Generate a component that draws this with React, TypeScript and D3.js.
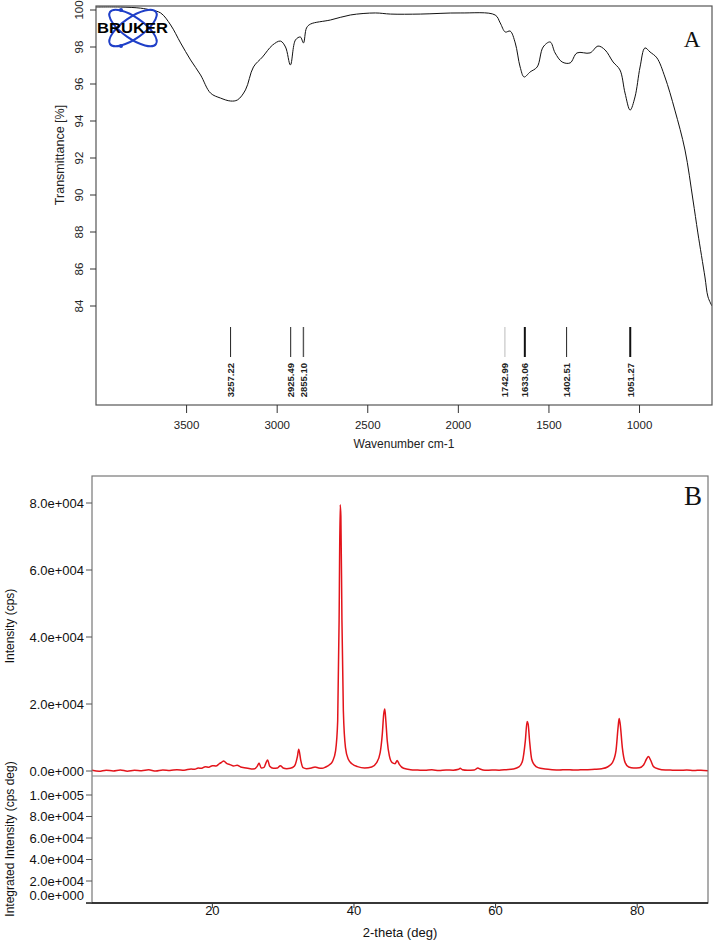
import React from "react";
import * as d3 from "d3";

// ---------- Panel A: FTIR ----------
const irWavenumber = [4000, 3864, 3754, 3698, 3643, 3588, 3533, 3478, 3423, 3368, 3313, 3257, 3219, 3175, 3131, 3081, 3026, 2982, 2954, 2927, 2899, 2872, 2855, 2838, 2816, 2706, 2596, 2458, 2375, 2210, 1990, 1797, 1769, 1741, 1714, 1686, 1659, 1637, 1604, 1565, 1532, 1493, 1466, 1427, 1383, 1345, 1273, 1229, 1190, 1146, 1108, 1080, 1052, 1025, 997, 970, 942, 904, 860, 805, 749, 705, 678, 639, 622, 600];
const irTransmittance = [100.16, 100.16, 100.1, 100.0, 99.84, 99.19, 98.22, 97.3, 96.49, 95.51, 95.24, 95.08, 95.14, 95.68, 96.92, 97.46, 98.1, 98.32, 98.0, 97.03, 98.38, 98.54, 98.22, 99.03, 99.24, 99.46, 99.73, 99.84, 99.78, 99.78, 99.84, 99.73, 99.3, 98.81, 98.86, 98.22, 96.92, 96.38, 96.65, 96.92, 98.0, 98.27, 97.68, 97.19, 97.14, 97.68, 97.68, 98.05, 97.84, 97.19, 96.76, 95.51, 94.59, 95.3, 96.92, 97.95, 97.73, 97.41, 96.38, 94.59, 92.43, 89.73, 87.95, 85.57, 84.49, 84.0];
const irYTicks = [84, 86, 88, 90, 92, 94, 96, 98, 100];
const irXTicks = [3500, 3000, 2500, 2000, 1500, 1000];
const irPeakLabels = ["3257.22", "2925.49", "2855.10", "1742.99", "1633.06", "1402.51", "1051.27"];
const irPeakWidths = [1, 1, 1.4, 0.8, 2, 1, 2];
const irPeakColors = ["#222", "#222", "#555", "#aaa", "#111", "#222", "#111"];

// ---------- Panel B: XRD ----------
const xrdTheta = [3, 4, 5, 6, 7, 8, 9, 10, 11, 12, 13, 14, 15, 16, 17, 17.5, 18, 18.5, 19, 19.5, 20, 20.5, 21, 21.3, 21.6, 22, 22.5, 23, 23.5, 24, 24.5, 25, 25.5, 26, 26.3, 26.6, 26.9, 27.3, 27.6, 27.8, 28.1, 28.6, 29.2, 29.6, 30, 30.5, 31, 31.6, 32, 32.2, 32.5, 32.8, 33.3, 34, 34.5, 35, 35.5, 36, 36.5, 37, 37.4, 37.7, 37.9, 38.05, 38.15, 38.3, 38.5, 38.8, 39.2, 39.8, 40.5, 41.5, 42.5, 43.2, 43.7, 44, 44.2, 44.35, 44.5, 44.7, 45, 45.4, 45.8, 46.1, 46.4, 47, 48, 49, 50, 51, 52, 53, 54, 54.8, 55, 55.3, 56, 57, 57.5, 57.8, 58.5, 59.5, 60.5, 61.5, 62.5, 63.3, 63.8, 64.2, 64.45, 64.6, 64.8, 65.1, 65.5, 66, 67, 68, 69, 70, 71, 72, 73, 74, 75, 75.8, 76.5, 77, 77.3, 77.45, 77.6, 77.9, 78.3, 78.8, 79.5, 80.3, 80.9, 81.3, 81.6, 81.9, 82.3, 83, 84, 85, 86, 87, 88, 89, 90];
const xrdCounts = [200, -100, 250, 0, 300, -50, 200, 100, 350, 0, 300, 150, 400, 250, 600, 500, 900, 800, 1300, 1100, 1600, 1500, 2200, 2600, 3000, 2300, 1900, 1500, 1700, 1200, 1000, 800, 600, 700, 1300, 2300, 900, 1100, 2600, 3300, 1400, 800, 900, 1600, 900, 700, 800, 1500, 4200, 6500, 3000, 1000, 700, 900, 1200, 900, 800, 1200, 1800, 3000, 6000, 15000, 45000, 79500, 76000, 45000, 18000, 7000, 3500, 2000, 1300, 900, 1200, 2500, 5500, 11000, 17000, 18500, 15000, 9000, 4500, 2500, 2200, 3100, 2000, 800, 400, 300, 200, 350, 150, 300, 250, 500, 800, 400, 250, 300, 900, 600, 200, 300, 250, 400, 600, 1200, 3000, 9000, 14800, 14000, 9000, 3500, 1800, 1000, 600, 400, 300, 400, 300, 350, 400, 500, 700, 1200, 2500, 6000, 13000, 15700, 14000, 7000, 2500, 1200, 900, 1000, 1800, 3500, 4300, 3200, 1300, 600, 300, 250, 200, 300, 150, 250, 100];
const xrdYTicks = [0, 20000, 40000, 60000, 80000];
const xrdIntYTicks = [0, 20000, 40000, 60000, 80000, 100000];
const xrdXTicks = [20, 40, 60, 80];

const fmtSci = (v: number) => {
  if (v === 0) return "0.0e+000";
  const e = Math.floor(Math.log10(v));
  const m = v / Math.pow(10, e);
  return `${m.toFixed(1)}e+${String(e).padStart(3, "0")}`;
};

const SANS = "'Liberation Sans', Arial, sans-serif";
const SERIF = "'Liberation Serif', 'Times New Roman', serif";

export default function App() {
  // Panel A geometry
  const aL = 96, aR = 712, aT = 6, aB = 405;
  const xA = d3.scaleLinear().domain([4000, 600]).range([aL, aR]);
  const yA = d3.scaleLinear().domain([84, 100]).range([306, 10]);
  const irLine = d3
    .line<number>()
    .x((_, i) => xA(irWavenumber[i]))
    .y((d) => yA(d))
    .curve(d3.curveCatmullRom.alpha(0.5));

  // Panel B geometry
  const bL = 92, bR = 708, bT = 476, bMid = 776, bB = 903;
  const xB = d3.scaleLinear().domain([3, 90]).range([bL, bR]);
  const yB = d3.scaleLinear().domain([0, 80000]).range([771, 503]);
  const yI = d3.scaleLinear().domain([0, 100000]).range([902.5, 795]);
  const xrdLine = d3
    .line<number>()
    .x((_, i) => xB(xrdTheta[i]))
    .y((d) => yB(d))
    .curve(d3.curveMonotoneX);

  return (
    <svg
      width={714}
      height={948}
      style={{ position: "absolute", left: 0, top: 0, display: "block", background: "#fff" }}
    >
      <defs>
        <clipPath id="clipA">
          <rect x={aL} y={aT} width={aR - aL} height={aB - aT} />
        </clipPath>
        <clipPath id="clipB">
          <rect x={bL} y={bT} width={bR - bL} height={bMid - bT} />
        </clipPath>
      </defs>

      {/* ---------- Panel A ---------- */}
      <path d={irLine(irTransmittance) || ""} fill="none" stroke="#111" strokeWidth={1} clipPath="url(#clipA)" />
      <rect x={aL} y={aT} width={aR - aL} height={aB - aT} fill="none" stroke="#555" strokeWidth={1.2} />

      {/* Bruker logo */}
      <g>
        <ellipse cx={133} cy={28} rx={28} ry={10.5} fill="none" stroke="#1f3fc8" strokeWidth={2} transform="rotate(35 133 28)" />
        <ellipse cx={133} cy={28} rx={28} ry={10.5} fill="none" stroke="#1f3fc8" strokeWidth={2} transform="rotate(-35 133 28)" />
        <circle cx={121} cy={46} r={2} fill="#1f3fc8" />
        <circle cx={121} cy={10} r={2} fill="#1f3fc8" />
        <text x={97} y={33} fontFamily={SANS} fontWeight={900} fontSize={15.5} textLength={71} lengthAdjust="spacingAndGlyphs" fill="#000">
          BRUKER
        </text>
      </g>

      {/* Y axis A */}
      {irYTicks.map((t) => (
        <g key={"ya" + t}>
          <line x1={aL - 6} x2={aL} y1={yA(t)} y2={yA(t)} stroke="#333" strokeWidth={1} />
          <text
            transform={`translate(83,${yA(t)}) rotate(-90)`}
            textAnchor="middle"
            fontFamily={SANS}
            fontSize={11.5}
            fill="#222"
          >
            {t}
          </text>
        </g>
      ))}
      <text transform={`translate(64,155) rotate(-90)`} textAnchor="middle" fontFamily={SANS} fontSize={12.5} fill="#222">
        Transmittance [%]
      </text>

      {/* X axis A */}
      {irXTicks.map((t) => (
        <g key={"xa" + t}>
          <line x1={xA(t)} x2={xA(t)} y1={aB} y2={aB + 8} stroke="#333" strokeWidth={1} />
          <text x={xA(t)} y={429} textAnchor="middle" fontFamily={SANS} fontSize={11.5} fill="#222">
            {t}
          </text>
        </g>
      ))}
      <text x={404} y={448} textAnchor="middle" fontFamily={SANS} fontSize={12} fill="#222">
        Wavenumber cm-1
      </text>

      {/* Peak markers */}
      {irPeakLabels.map((lab, i) => {
        const x = xA(parseFloat(lab));
        return (
          <g key={"pk" + lab}>
            <line x1={x} x2={x} y1={327} y2={357} stroke={irPeakColors[i]} strokeWidth={irPeakWidths[i]} />
            <text
              transform={`translate(${x + 3.5},363) rotate(-90)`}
              textAnchor="end"
              fontFamily={SANS}
              fontWeight={700}
              fontSize={9.5}
              fill="#222"
            >
              {lab}
            </text>
          </g>
        );
      })}

      <text x={692} y={47} textAnchor="middle" fontFamily={SERIF} fontSize={23} fill="#111">
        A
      </text>

      {/* ---------- Panel B ---------- */}
      <path d={xrdLine(xrdCounts) || ""} fill="none" stroke="#e3141b" strokeWidth={1.5} clipPath="url(#clipB)" />
      <rect x={bL} y={bT} width={bR - bL} height={bB - bT} fill="none" stroke="#777" strokeWidth={1.2} />
      <line x1={bL} x2={bR} y1={bMid} y2={bMid} stroke="#888" strokeWidth={1.2} />
      <line x1={bL - 6} x2={bR} y1={bB} y2={bB} stroke="#111" strokeWidth={1.5} />

      {xrdYTicks.map((t) => (
        <g key={"yb" + t}>
          <line x1={bL - 6} x2={bL} y1={yB(t)} y2={yB(t)} stroke="#555" strokeWidth={1} />
          <text x={84} y={yB(t) + 4.5} textAnchor="end" fontFamily={SANS} fontSize={13} fill="#111">
            {fmtSci(t)}
          </text>
        </g>
      ))}
      {xrdIntYTicks.map((t) => (
        <g key={"yi" + t}>
          <line x1={bL - 6} x2={bL} y1={yI(t)} y2={yI(t)} stroke="#555" strokeWidth={1} />
          <text x={84} y={(t === 0 ? yI(t) - 7 : yI(t)) + 4.5} textAnchor="end" fontFamily={SANS} fontSize={13} fill="#111">
            {fmtSci(t)}
          </text>
        </g>
      ))}
      <text transform={`translate(14,626) rotate(-90)`} textAnchor="middle" fontFamily={SANS} fontSize={12} fill="#111">
        Intensity (cps)
      </text>
      <text transform={`translate(14,839) rotate(-90)`} textAnchor="middle" fontFamily={SANS} fontSize={12} fill="#111">
        Integrated Intensity (cps deg)
      </text>

      {xrdXTicks.map((t) => (
        <g key={"xb" + t}>
          <line x1={xB(t)} x2={xB(t)} y1={bB} y2={bB + 5} stroke="#333" strokeWidth={1} />
          <text x={xB(t)} y={915} textAnchor="middle" fontFamily={SANS} fontSize={13} fill="#111">
            {t}
          </text>
        </g>
      ))}
      <text x={400} y={937} textAnchor="middle" fontFamily={SANS} fontSize={13} fill="#111">
        2-theta (deg)
      </text>

      <text x={693} y={505} textAnchor="middle" fontFamily={SERIF} fontSize={27} fill="#111">
        B
      </text>
    </svg>
  );
}
